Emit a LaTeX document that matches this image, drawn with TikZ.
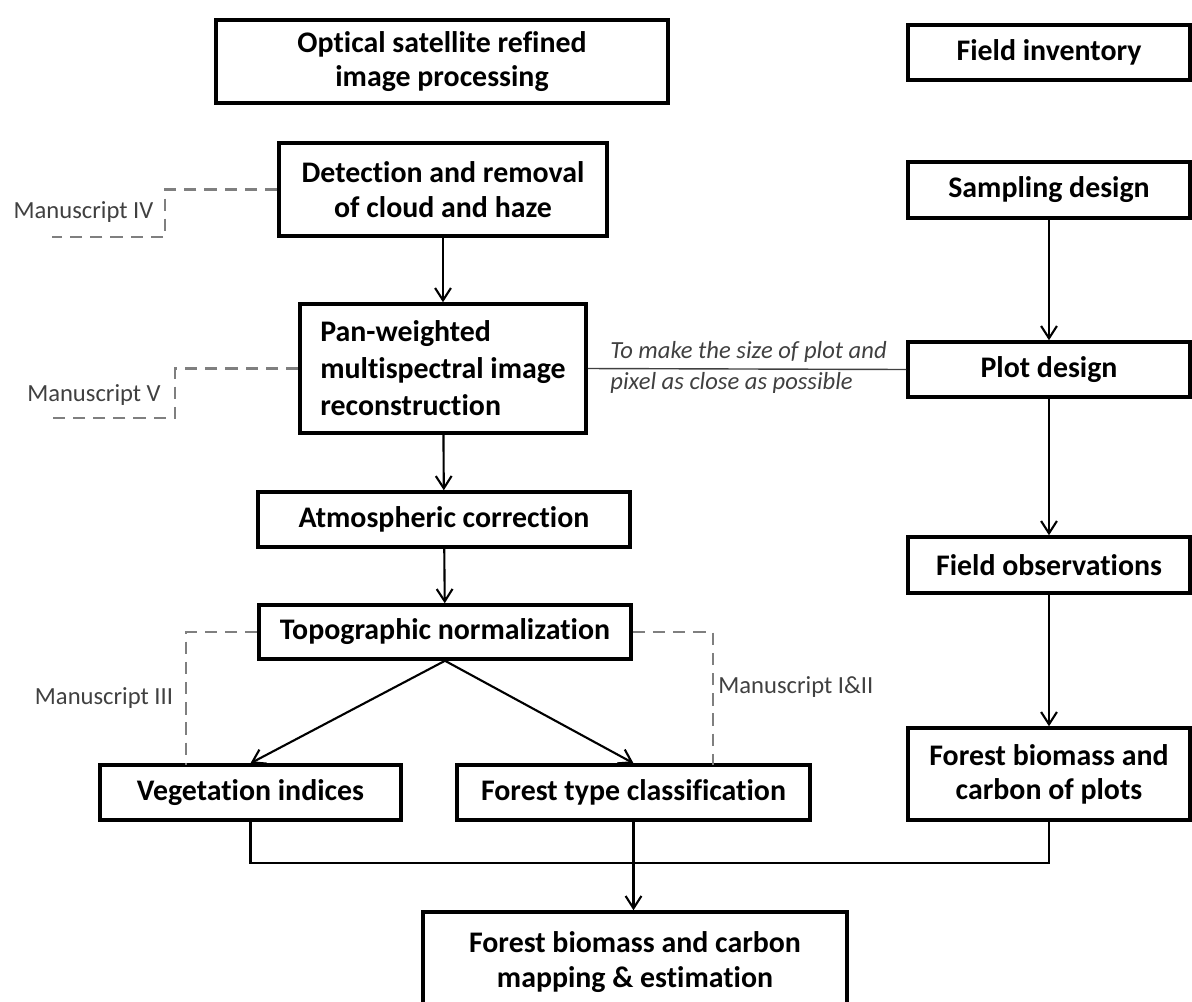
\documentclass[tikz,border=0pt]{standalone}
\usepackage{fontspec}
\setmainfont{Carlito}[Ligatures=CommonOff]
\usepackage{tikz}
\usetikzlibrary{arrows.meta,positioning}
\definecolor{msgray}{HTML}{7F7F7F}
\definecolor{txtgray}{HTML}{404040}

\begin{document}
\begin{tikzpicture}
		[inner sep=0pt,
		box/.style		= {rectangle,draw,line width=2pt,align=center,font=\fontsize{17}{19.5}\selectfont\bfseries},
		paths/.style	= {-{Straight Barb[length=7pt,width=9pt,line width=1.2pt]}, line width=1.2pt},
		link/.style		= {line width=1.2pt},
		msline/.style	= {draw=msgray, line width=1.4pt, dash pattern=on 7pt off 4.5pt},
		mstext/.style	= {text=txtgray, font=\fontsize{14}{17}\selectfont},
		note/.style		= {text=txtgray, align=left, font=\fontsize{14}{17.5}\selectfont\itshape}]
		
		\useasboundingbox (0, 0) rectangle (23.84, -20.02);
		\clip (0, 0) rectangle (23.84, -20.02);
		
		\node at (8.84, -1.23)	[box, minimum width=9.04cm, minimum height=1.66cm]	(opt)	{Optical satellite refined\\image processing};
		\node at (8.86, -3.79)	[box, minimum width=6.56cm, minimum height=1.86cm]	(det)	{Detection and removal\\of cloud and haze};
		\node at (8.86, -7.37)	[box, minimum width=5.72cm, minimum height=2.58cm, align=left, font=\fontsize{17}{21}\selectfont\bfseries]	(pan)	{Pan-weighted\\multispectral image\\reconstruction};
		\node at (8.88, -10.39)	[box, minimum width=7.44cm, minimum height=1.10cm]	(atm)	{Atmospheric correction};
		\node at (8.90, -12.64)	[box, minimum width=7.44cm, minimum height=1.08cm]	(topo)	{Topographic normalization};
		\node at (5.01, -15.85)	[box, minimum width=6.02cm, minimum height=1.10cm]	(veg)	{Vegetation indices};
		\node at (12.67, -15.85)	[box, minimum width=7.06cm, minimum height=1.10cm]	(ftype)	{Forest type classification};
		\node at (12.70, -19.24)	[box, minimum width=8.48cm, minimum height=2.00cm]	(final)	{Forest biomass and carbon\\mapping \& estimation};
		
		\node at (20.98, -1.05)	[box, minimum width=5.64cm, minimum height=1.10cm]	(inv)	{Field inventory};
		\node at (20.98, -3.80)	[box, minimum width=5.64cm, minimum height=1.12cm]	(samp)	{Sampling design};
		\node at (20.98, -7.39)	[box, minimum width=5.64cm, minimum height=1.10cm]	(plot)	{Plot design};
		\node at (20.98, -11.30)	[box, minimum width=5.64cm, minimum height=1.12cm]	(obs)	{Field observations};
		\node at (20.98, -15.48)	[box, minimum width=5.64cm, minimum height=1.84cm]	(plots)	{Forest biomass and\\carbon of plots};
		
		\node at (1.67, -4.24)	[mstext]	(ms4)	{Manuscript IV};
		\node at (1.88, -7.90)	[mstext]	(ms5)	{Manuscript V};
		\node at (2.08, -13.96)	[mstext]	(ms3)	{Manuscript III};
		\node at (14.36, -13.74)	[mstext, anchor=west]	(ms12)	{Manuscript I\&II};
		
		\coordinate (e4) at (1.04, -4.74);
		\coordinate (k4) at (3.30, -4.74);
		\coordinate (e5) at (1.04, -8.36);
		\coordinate (k5) at (3.50, -8.36);
		\coordinate (k3) at (3.72, -15.30);
		\coordinate (k12) at (14.26, -15.30);
		\coordinate (jn) at (12.67, -17.26);
		
		\draw [paths] (det) -- (pan);
		\draw [paths] (pan) -- (atm);
		\draw [paths] (atm) -- (topo);
		\draw [paths] (topo.south) -- (veg.north);
		\draw [paths] (topo.south) -- (ftype.north);
		
		\draw [paths] (samp) -- (plot);
		\draw [paths] (plot) -- (obs);
		\draw [paths] (obs) -- (plots);
		
		\draw [link] (veg.south) |- (jn) -| (plots.south);
		\draw [paths] (ftype.south) -- (ftype.south |- final.north);
		
		\draw [draw=txtgray, line width=0.8pt] (pan.east) -- (plot.west);
		\node at (12.20, -7.35)	[note, anchor=west]	(why)	{To make the size of plot and\\pixel as close as possible};
		
		\draw [msline] (det.west) -| (k4) -- (e4);
		\draw [msline] (pan.west) -| (k5) -- (e5);
		\draw [msline] (topo.west) -| (k3);
		\draw [msline] (topo.east) -| (k12);
		
\end{tikzpicture}
\end{document}
